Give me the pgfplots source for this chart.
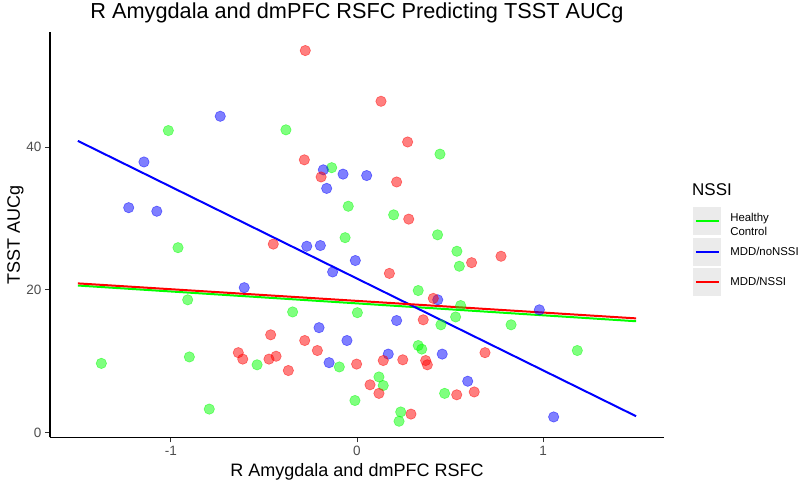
\documentclass[border=0pt]{standalone}
\usepackage{pgfplots}
\pgfplotsset{compat=1.18}
\usepackage{fontspec}
\setmainfont{Liberation Sans}
\definecolor{tickgray}{HTML}{4D4D4D}
\definecolor{keygray}{HTML}{EBEBEB}
\definecolor{ggreen}{HTML}{00FF00}
\definecolor{gblue}{HTML}{0000FF}
\definecolor{gred}{HTML}{FF0000}

\pgfplotstableread{
x y
-0.382 42.4
-1.014 42.3
-0.136 37.1
-0.047 31.7
-0.064 27.3
-0.962 25.9
0.446 39.0
0.197 30.5
0.433 27.7
0.537 25.4
0.550 23.3
-0.910 18.6
-0.346 16.9
0.002 16.8
0.329 19.9
0.557 17.8
0.530 16.2
0.451 15.1
0.828 15.1
0.329 12.2
0.348 11.7
1.184 11.5
-0.901 10.6
-1.374 9.7
-0.537 9.5
-0.095 9.2
0.118 7.8
0.141 6.6
0.471 5.5
-0.011 4.5
-0.794 3.3
0.235 2.9
0.226 1.6
}\greendata

\pgfplotstableread{
x y
-0.735 44.3
-1.145 37.9
-0.181 36.8
-0.075 36.2
-0.163 34.2
-1.227 31.5
-1.076 31.0
-0.270 26.1
-0.197 26.2
0.052 36.0
-0.009 24.1
-0.131 22.5
-0.606 20.3
-0.204 14.7
-0.054 12.9
-0.150 9.8
0.434 18.6
0.980 17.2
0.213 15.7
0.168 11.0
0.458 11.0
0.595 7.2
1.057 2.2
}\bluedata

\pgfplotstableread{
x y
-0.278 53.5
-0.283 38.2
-0.193 35.8
0.129 46.4
0.272 40.7
0.213 35.1
0.278 29.9
-0.450 26.4
0.774 24.7
0.616 23.8
0.174 22.3
0.410 18.8
0.356 15.8
-0.464 13.7
-0.281 12.9
-0.213 11.5
-0.638 11.2
-0.614 10.3
-0.473 10.3
-0.435 10.7
-0.369 8.7
-0.002 9.6
0.688 11.2
0.141 10.1
0.246 10.2
0.369 10.1
0.378 9.5
0.070 6.7
0.118 5.5
0.536 5.3
0.630 5.7
0.290 2.6
}\reddata

\begin{document}
\begin{tikzpicture}[x=1pt,y=1pt]
\path[use as bounding box] (0,0) rectangle (800,486);
\begin{axis}[
  at={(50pt,48.7pt)}, anchor=south west,
  width=614pt, height=405.3pt, scale only axis,
  xmin=-1.65, xmax=1.65, ymin=-0.65, ymax=56.1,
  axis x line*=bottom, axis y line*=left,
  axis line style={-, line width=1.1pt, black},
  xtick={-1,0,1}, xticklabels={-1,0,1},
  ytick={0,20,40}, yticklabels={0,20,40},
  tick align=outside, major tick length=5pt,
  tick style={line width=0.9pt, color=black!80},
  ticklabel style={font=\fontsize{13.5}{15}\selectfont, text=tickgray},
  title={R Amygdala and dmPFC RSFC Predicting TSST AUCg},
  every axis title/.style={at={(axis description cs:0.5,1.0338)}, anchor=base, inner sep=0pt, font=\fontsize{21.7}{24}\selectfont},
  xlabel={R Amygdala and dmPFC RSFC},
  xlabel style={at={(axis description cs:0.5,-0.0962)}, anchor=base, font=\fontsize{18}{20}\selectfont},
  ylabel={TSST AUCg},
  ylabel style={at={(axis description cs:-0.04886,0.5)}, anchor=base, font=\fontsize{18}{20}\selectfont},
  legend style={at={(axis description cs:1.0477,0.5675)}, anchor=north west, draw=none, fill=none,
    inner sep=0pt, outer sep=0pt, row sep=2.4pt, column sep=9pt,
    font=\fontsize{11.4}{13.4}\selectfont, nodes={inner sep=0pt}},
  legend cell align=left,
  legend image code/.code={\fill[keygray] (0pt,-13pt) rectangle (26pt,13pt); \draw[#1] (1.5pt,0pt) -- (24.5pt,0pt);},
]
\addplot[only marks, mark=*, mark size=5.2pt, mark options={draw=ggreen, fill=ggreen, draw opacity=0.5, fill opacity=0.5, line width=0.6pt}, forget plot] table[x=x,y=y] {\greendata};
\addplot[only marks, mark=*, mark size=5.2pt, mark options={draw=gblue, fill=gblue, draw opacity=0.5, fill opacity=0.5, line width=0.6pt}, forget plot] table[x=x,y=y] {\bluedata};
\addplot[only marks, mark=*, mark size=5.2pt, mark options={draw=gred, fill=gred, draw opacity=0.5, fill opacity=0.5, line width=0.6pt}, forget plot] table[x=x,y=y] {\reddata};
\addplot[ggreen, line width=2pt] coordinates {(-1.5,20.6) (1.5,15.6)};
\addlegendentry{\begin{tabular}{@{}l@{}}Healthy\\Control\end{tabular}}
\addplot[gblue, line width=2pt] coordinates {(-1.5,40.85) (1.5,2.3)};
\addlegendentry{MDD/noNSSI}
\addplot[gred, line width=2pt] coordinates {(-1.5,20.9) (1.5,16.0)};
\addlegendentry{MDD/NSSI}
\end{axis}
\node[anchor=base west, font=\fontsize{17}{20}\selectfont, inner sep=0pt] at (692,290.6) {NSSI};
\end{tikzpicture}
\end{document}
